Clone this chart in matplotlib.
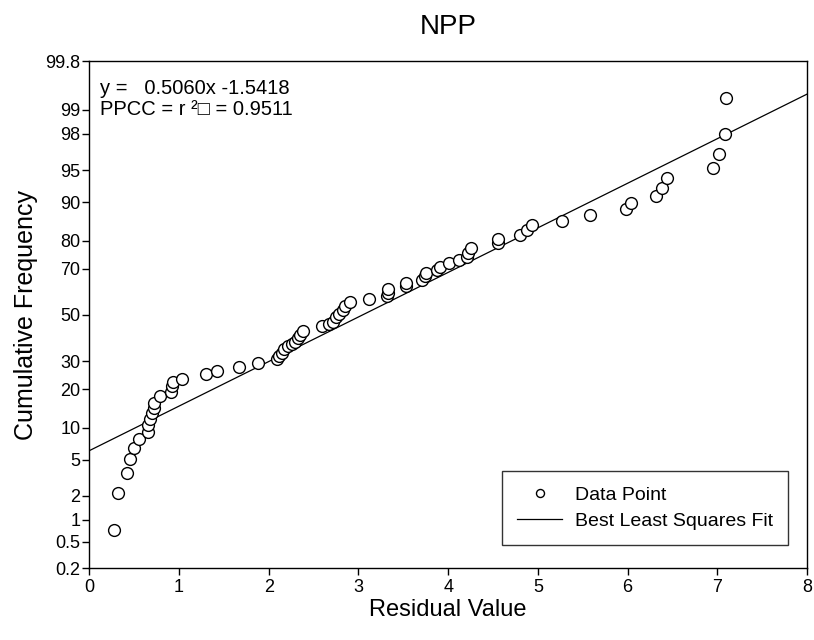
import math
import numpy as np
import matplotlib
matplotlib.use('Agg')
import matplotlib.pyplot as plt

plt.rcParams['font.family'] = ['Liberation Sans', 'DejaVu Sans']

# residual values (x) and cumulative frequency (%)
resid = [0.275, 0.323, 0.424, 0.454, 0.495, 0.551, 0.651, 0.658, 0.677, 0.702,
         0.718, 0.718, 0.792, 0.911, 0.925, 0.933, 1.037, 1.301, 1.420, 1.672,
         1.884, 2.096, 2.118, 2.145, 2.174, 2.212, 2.260, 2.297, 2.323, 2.346,
         2.379, 2.591, 2.672, 2.717, 2.750, 2.784, 2.828, 2.851, 2.906, 3.118,
         3.316, 3.327, 3.333, 3.531, 3.531, 3.706, 3.742, 3.754, 3.873, 3.910,
         4.010, 4.122, 4.205, 4.225, 4.250, 4.560, 4.560, 4.796, 4.876, 4.932,
         5.266, 5.582, 5.983, 6.036, 6.318, 6.381, 6.437, 6.957, 7.020, 7.087,
         7.095]
cumfreq = [0.73, 2.18, 3.61, 5.06, 6.50, 7.90, 9.24, 10.56, 11.80, 13.20,
           14.45, 15.94, 17.86, 19.16, 20.98, 22.42, 23.34, 25.11, 26.32, 27.60,
           29.37, 30.71, 32.04, 33.40, 34.80, 36.20, 37.07, 38.05, 39.51, 40.98,
           42.89, 44.99, 45.89, 46.92, 48.82, 50.41, 52.22, 54.02, 55.60, 57.03,
           58.36, 59.95, 61.34, 62.64, 63.93, 65.40, 66.86, 68.16, 69.50, 70.79,
           72.10, 73.34, 74.57, 75.78, 77.46, 79.12, 80.40, 81.78, 83.10, 84.49,
           85.68, 87.16, 88.47, 89.87, 91.15, 92.56, 93.95, 95.27, 96.61, 97.98,
           99.32]
slope, intercept = 0.5060, -1.5418
yticks = [0.2, 0.5, 1, 2, 5, 10, 20, 30, 50, 70, 80, 90, 95, 98, 99, 99.8]
ylabels = ['0.2', '0.5', '1', '2', '5', '10', '20', '30', '50', '70', '80',
           '90', '95', '98', '99', '99.8']

_erf = np.vectorize(math.erf, otypes=[float])

def cdf(z):
    z = np.asarray(z, dtype=float)
    return 50.0 * (1.0 + _erf(z / math.sqrt(2.0)))

def ppf(p):
    # inverse normal cdf by bisection, p in percent
    p = np.clip(np.asarray(p, dtype=float), 1e-6, 100 - 1e-6)
    lo = np.full(p.shape, -8.0)
    hi = np.full(p.shape, 8.0)
    for _ in range(60):
        mid = 0.5 * (lo + hi)
        low = cdf(mid) < p
        lo = np.where(low, mid, lo)
        hi = np.where(low, hi, mid)
    return 0.5 * (lo + hi)

fig = plt.figure(figsize=(8.14, 6.4), dpi=100)
ax = fig.add_axes([0.1097, 0.1119, 0.8817, 0.7922])
ax.set_yscale('function', functions=(ppf, cdf))

ax.plot(resid, cumfreq, linestyle='', marker='o', markersize=8.5,
        markerfacecolor='white', markeredgecolor='black', markeredgewidth=1.0,
        label='Data Point', zorder=3)
xl = np.linspace(0, 8, 200)
ax.plot(xl, cdf(slope * xl + intercept), color='black', lw=0.9,
        label='Best Least Squares Fit', zorder=2)

ax.set_xlim(0, 8)
ax.set_ylim(0.2, 99.8)
ax.set_xticks(range(0, 9))
ax.set_yticks(yticks)
ax.set_yticklabels(ylabels)
ax.minorticks_off()
ax.tick_params(direction='out', length=5, width=1, labelsize=13)
ax.tick_params(axis='y', pad=1.5)
ax.tick_params(axis='x', pad=3)
for s in ax.spines.values():
    s.set_linewidth(1)

ax.set_xlabel('Residual Value', fontsize=17, labelpad=2)
ax.set_ylabel('Cumulative Frequency', fontsize=18, labelpad=5)
ax.set_title('NPP', fontsize=20, pad=20)

ax.text(0.015, 0.965, 'y =   %.4fx %.4f\nPPCC = r \u00b2\u25a1 = 0.9511' % (slope, intercept),
        transform=ax.transAxes, ha='left', va='top', fontsize=14.5,
        linespacing=1.1)

leg = ax.legend(loc='lower right', bbox_to_anchor=(0.974, 0.046), fontsize=14,
                frameon=True, fancybox=False, edgecolor='black', borderpad=0.8,
                handlelength=2.3, markerscale=0.68, labelspacing=0.4,
                borderaxespad=0, handletextpad=0.65)
leg.get_frame().set_linewidth(1)

plt.savefig('out.png', dpi=100)
